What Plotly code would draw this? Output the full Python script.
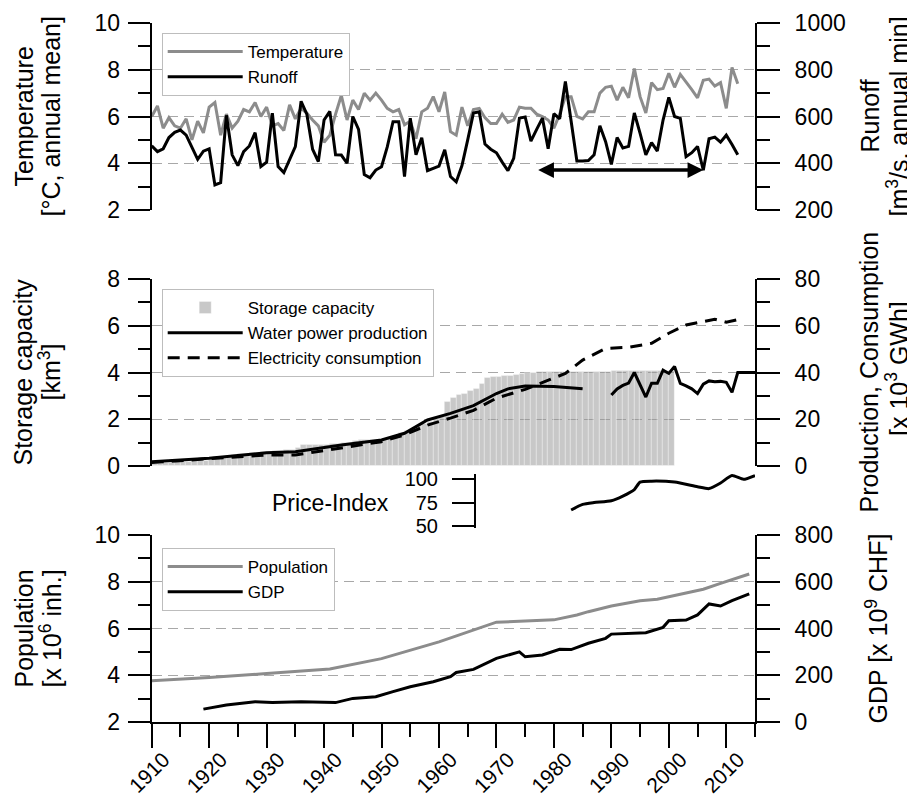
import plotly.graph_objects as go

# ---------------- data ----------------
years_clim = list(range(1910, 2013))
temperature = [6.0, 6.45, 5.5, 5.95, 5.6, 5.5, 5.9, 5.0, 5.8, 5.3,
               6.4, 6.6, 5.2, 6.1, 5.5, 5.8, 6.3, 6.2, 6.6, 6.0,
               6.4, 5.6, 5.7, 5.4, 6.5, 5.9, 6.35, 6.15, 5.85, 5.6,
               4.9, 5.2, 6.1, 6.9, 5.85, 6.7, 6.3, 7.0, 6.7, 7.0,
               6.7, 6.35, 6.2, 6.3, 5.65, 5.8, 5.05, 6.2, 6.35, 6.85,
               6.2, 7.05, 5.35, 5.2, 6.4, 5.6, 6.3, 6.35, 5.95, 5.7,
               5.7, 6.1, 5.75, 5.85, 6.4, 6.35, 6.35, 6.1, 6.0, 5.85,
               5.5, 6.1, 6.85, 6.85, 6.0, 5.9, 6.2, 6.2, 7.0, 7.25,
               7.3, 6.7, 7.25, 6.8, 8.05, 6.85, 6.15, 7.45, 7.15, 7.2,
               7.85, 7.25, 7.8, 7.5, 7.15, 6.8, 7.55, 7.6, 7.3, 7.45,
               6.35, 8.1, 7.4]
runoff = [475, 450, 462, 510, 532, 542, 520, 470, 417, 452,
          462, 307, 317, 605, 436, 390, 450, 474, 531, 386,
          405, 614, 386, 360, 414, 471, 665, 610, 460, 407,
          585, 622, 436, 435, 400, 600, 545, 352, 338, 371,
          385, 470, 578, 578, 343, 593, 436, 509, 368, 379,
          388, 458, 343, 320, 390, 500, 615, 620, 482, 460,
          445, 405, 368, 421, 593, 598, 495, 545, 593, 462,
          612, 590, 750, 580, 410, 410, 412, 436, 560, 492,
          395, 510, 465, 472, 615, 528, 436, 488, 452, 585,
          682, 600, 592, 428, 445, 472, 370, 505, 512, 490,
          520, 480, 436]
arrow_period = [1977, 2006]
arrow_level = 371

storage_years = list(range(1910, 2001))
storage = [0.1, 0.1, 0.12, 0.12, 0.15, 0.15, 0.18, 0.2, 0.2, 0.22,
           0.25, 0.3, 0.35, 0.4, 0.45, 0.5, 0.5, 0.55, 0.55, 0.6,
           0.6, 0.65, 0.65, 0.7, 0.7, 0.75, 0.9, 0.9, 0.9, 0.9,
           0.9, 0.95, 0.95, 1.0, 1.0, 1.05, 1.1, 1.1, 1.1, 1.1,
           1.1, 1.2, 1.3, 1.4, 1.5, 1.6, 1.7, 1.8, 1.9, 2.0,
           2.1, 2.75, 2.9, 3.05, 3.1, 3.2, 3.3, 3.5, 3.75, 3.8,
           3.8, 3.85, 3.85, 3.9, 3.95, 4.0, 4.0, 4.02, 4.02, 4.03,
           4.03, 4.03, 4.03, 4.03, 4.03, 4.03, 4.03, 4.03, 4.03, 4.03,
           4.05, 4.05, 4.05, 4.05, 4.05, 4.05, 4.05, 4.05, 4.05, 4.05, 4.05]

prod_years_a = [1910, 1920, 1930, 1935, 1943, 1950, 1954, 1958, 1962, 1966, 1970, 1972, 1975, 1980, 1985]
prod_a = [1.8, 3.3, 5.7, 6.1, 9.0, 11.1, 14.0, 19.7, 22.5, 25.8, 31.0, 33.0, 34.2, 34.0, 33.0]
prod_years_b = list(range(1990, 2016))
prod_b = [30.4, 33.0, 34.5, 35.5, 40.0, 35.0, 29.5, 35.4, 35.4, 41.0,
          39.6, 42.6, 35.3, 34.3, 33.0, 31.0, 35.0, 36.4, 36.0, 36.2,
          35.8, 31.5, 40.0, 40.0, 40.0, 40.0]

cons_years = [1910, 1920, 1930, 1935, 1943, 1950, 1954, 1958, 1962, 1966, 1970, 1975, 1977,
              1982, 1985, 1989, 1993, 1997, 2000, 2003, 2008, 2010, 2013]
consumption = [1.5, 3.0, 4.7, 4.7, 7.6, 10.4, 13.3, 17.5, 20.5, 23.8, 29.0, 32.8, 34.7,
               39.6, 45.3, 50.3, 50.8, 52.5, 56.8, 60.3, 62.8, 61.5, 63.2]

price_years = [1983, 1985, 1987, 1990, 1992, 1994, 1995, 1997, 2001, 2005, 2007, 2009, 2011, 2013, 2015]
price_index = [67, 73, 75, 77, 82, 89, 97, 98, 97, 92, 90, 96, 104, 100, 104]

pop_years = [1910, 1920, 1930, 1941, 1950, 1960, 1970, 1980, 1984, 1986, 1990, 1995, 1998,
             2000, 2003, 2006, 2009, 2012, 2014]
population = [3.77, 3.9, 4.07, 4.27, 4.71, 5.43, 6.27, 6.37, 6.58, 6.72, 6.96, 7.19, 7.25,
              7.36, 7.53, 7.68, 7.93, 8.15, 8.33]

gdp_years = [1919, 1923, 1928, 1931, 1936, 1939, 1942, 1945, 1949, 1952, 1955, 1959, 1962,
             1963, 1966, 1970, 1972, 1974, 1975, 1978, 1981, 1983, 1986, 1989, 1990, 1992,
             1996, 1999, 2000, 2003, 2005, 2007, 2009, 2011, 2014]
gdp = [55, 73, 87, 83, 87, 84, 83, 101, 108, 130, 151, 172, 194,
       212, 225, 272, 287, 300, 279, 287, 311, 310, 337, 358, 376, 378,
       382, 405, 433, 436, 458, 505, 496, 519, 548]

# ---------------- styling ----------------
FONT = "Liberation Sans, Arial, sans-serif"
W, H = 915, 811
OFF = 8  # page body margin
GRAY = "#8c8c8c"
GRID = "#a8a8a8"
TICK_SIZE = 23
TITLE_SIZE = 25

def px(pix):
    return (pix - OFF) / W

def py(pix):
    return 1 - (pix - OFF) / H

xd = [px(151.7), px(755)]
dom_top = [py(210), py(23)]
dom_mid = [py(466), py(279)]
dom_bot = [py(722), py(535)]
dom_price = [py(527.7), py(473.7)]

fig = go.Figure()

# top panel
fig.add_trace(go.Scatter(x=years_clim, y=temperature, mode="lines", name="Temperature",
                         line=dict(color=GRAY, width=3), xaxis="x", yaxis="y", legend="legend"))
fig.add_trace(go.Scatter(x=years_clim, y=runoff, mode="lines", name="Runoff",
                         line=dict(color="black", width=3), xaxis="x", yaxis="y2", legend="legend"))

# middle panel
fig.add_trace(go.Bar(x=storage_years, y=storage, width=1, offset=0, name="Storage capacity",
                     marker=dict(color="rgba(150,150,150,0.52)",
                                 line=dict(color="rgba(255,255,255,0.45)", width=0.8)),
                     xaxis="x", yaxis="y3", legend="legend2"))
fig.add_trace(go.Scatter(x=prod_years_a, y=prod_a, mode="lines", name="Water power production",
                         line=dict(color="black", width=3), xaxis="x", yaxis="y4",
                         legend="legend2", legendgroup="prod"))
fig.add_trace(go.Scatter(x=prod_years_b, y=prod_b, mode="lines", name="Water power production",
                         line=dict(color="black", width=3), xaxis="x", yaxis="y4",
                         legend="legend2", legendgroup="prod", showlegend=False))
fig.add_trace(go.Scatter(x=cons_years, y=consumption, mode="lines", name="Electricity consumption",
                         line=dict(color="black", width=3, dash="12px,8px"), xaxis="x", yaxis="y4",
                         legend="legend2"))

# price index
fig.add_trace(go.Scatter(x=price_years, y=price_index, mode="lines", name="Price-Index",
                         line=dict(color="black", width=3, shape="spline", smoothing=0.6),
                         xaxis="x", yaxis="y7", showlegend=False))

# bottom panel
fig.add_trace(go.Scatter(x=pop_years, y=population, mode="lines", name="Population",
                         line=dict(color=GRAY, width=3), xaxis="x", yaxis="y5", legend="legend3"))
fig.add_trace(go.Scatter(x=gdp_years, y=gdp, mode="lines", name="GDP",
                         line=dict(color="black", width=3), xaxis="x", yaxis="y6", legend="legend3"))

tickfont = dict(family=FONT, size=TICK_SIZE, color="black")

def left_axis(domain, rng, dtick, minor):
    return dict(domain=domain, range=rng, anchor="x", side="left", dtick=dtick, tick0=rng[0],
                ticks="outside", ticklen=22, tickwidth=2, tickcolor="black", automargin=False,
                showline=True, linewidth=2, linecolor="black", zeroline=False,
                showgrid=True, gridcolor=GRID, griddash="10px,6px", gridwidth=1.3,
                tickfont=tickfont, ticklabelstandoff=3,
                minor=dict(dtick=minor, ticks="outside", ticklen=12, tickwidth=2,
                           tickcolor="black", showgrid=False))

def right_axis(over, rng, dtick, minor):
    return dict(overlaying=over, range=rng, anchor="x", side="right", dtick=dtick, tick0=rng[0],
                ticks="outside", ticklen=23, tickwidth=2, tickcolor="black", automargin=False,
                showline=True, linewidth=2, linecolor="black", zeroline=False,
                showgrid=False, tickfont=tickfont, ticklabelstandoff=10,
                minor=dict(dtick=minor, ticks="outside", ticklen=13, tickwidth=2,
                           tickcolor="black", showgrid=False))

legend_common = dict(bgcolor="white", bordercolor="#bdbdbd", borderwidth=1,
                     font=dict(family=FONT, size=17, color="black"),
                     xanchor="left", yanchor="top", xref="paper", yref="paper",
                     tracegroupgap=0, itemwidth=75)

fig.update_layout(
    width=W, height=H, margin=dict(l=0, r=0, t=0, b=0, autoexpand=False),
    paper_bgcolor="white", plot_bgcolor="white",
    font=dict(family=FONT, size=20, color="black"),
    bargap=0,
    xaxis=dict(domain=xd, range=[1910, 2015], anchor="y5", tickmode="linear", tick0=1910, dtick=10,
               ticks="outside", ticklen=24, tickwidth=2, tickcolor="black", automargin=False,
               showline=True, linewidth=2, linecolor="black", showgrid=False, zeroline=False,
               tickangle=-45, tickfont=dict(family=FONT, size=21, color="black"),
               ticklabelstandoff=-9, ticklabelshift=12,
               minor=dict(dtick=5, tick0=1910, ticks="outside", ticklen=13, tickwidth=2,
                          tickcolor="black", showgrid=False)),
    yaxis=left_axis(dom_top, [2, 10], 2, 1),
    yaxis2=right_axis("y", [200, 1000], 200, 100),
    yaxis3=left_axis(dom_mid, [0, 8], 2, 1),
    yaxis4=right_axis("y3", [0, 80], 20, 10),
    yaxis5=left_axis(dom_bot, [2, 10], 2, 1),
    yaxis6=right_axis("y5", [0, 800], 200, 100),
    yaxis7=dict(domain=dom_price, range=[48, 106], anchor="free", position=px(475), side="left",
                tickmode="array", tickvals=[50, 75, 100], ticks="outside", ticklen=22, tickwidth=2,
                tickcolor="black", showline=True, linewidth=2, linecolor="black", automargin=False,
                showgrid=False, zeroline=False, tickfont=dict(family=FONT, size=20, color="black"),
                ticklabelstandoff=10),
    legend=dict(x=px(161.7), y=py(33), **legend_common),
    legend2=dict(x=px(161.7), y=py(289), **legend_common),
    legend3=dict(x=px(161.7), y=py(548), **legend_common),
    showlegend=True,
)

def title(text, x, y):
    fig.add_annotation(text=text, x=px(x), y=py(y), xref="paper", yref="paper",
                       textangle=-90, showarrow=False, xanchor="center", yanchor="middle",
                       font=dict(family=FONT, size=TITLE_SIZE, color="black"))

top_c, mid_c, bot_c = 116.5, 372.5, 628.5
title("Temperature", 23, top_c)
title("[°C, annual mean]", 50, top_c)
title("Runoff", 869, top_c)
title("[m<sup>3</sup>/s, annual min]", 897, top_c)
title("Storage capacity", 23, mid_c)
title("[km<sup>3</sup>]", 50, mid_c)
title("Production, Consumption", 869, mid_c)
title("[x 10<sup>3</sup> GWh]", 897, 369)
title("Population", 23, bot_c)
title("[x 10<sup>6</sup> inh.]", 50, bot_c)
title("GDP [x 10<sup>9</sup> CHF]", 876, bot_c)

fig.add_annotation(text="Price-Index", x=px(391), y=py(503), xref="paper", yref="paper",
                   showarrow=False, xanchor="right", yanchor="middle",
                   font=dict(family=FONT, size=TICK_SIZE, color="black"))

# double-headed arrow in top panel
fig.add_annotation(x=arrow_period[1], y=arrow_level, ax=arrow_period[0], ay=arrow_level,
                   xref="x", yref="y2", axref="x", ayref="y2", text="", showarrow=True,
                   arrowhead=2, arrowside="end+start", arrowwidth=3.5, arrowsize=0.9,
                   arrowcolor="black")

fig.write_html("out.html")
